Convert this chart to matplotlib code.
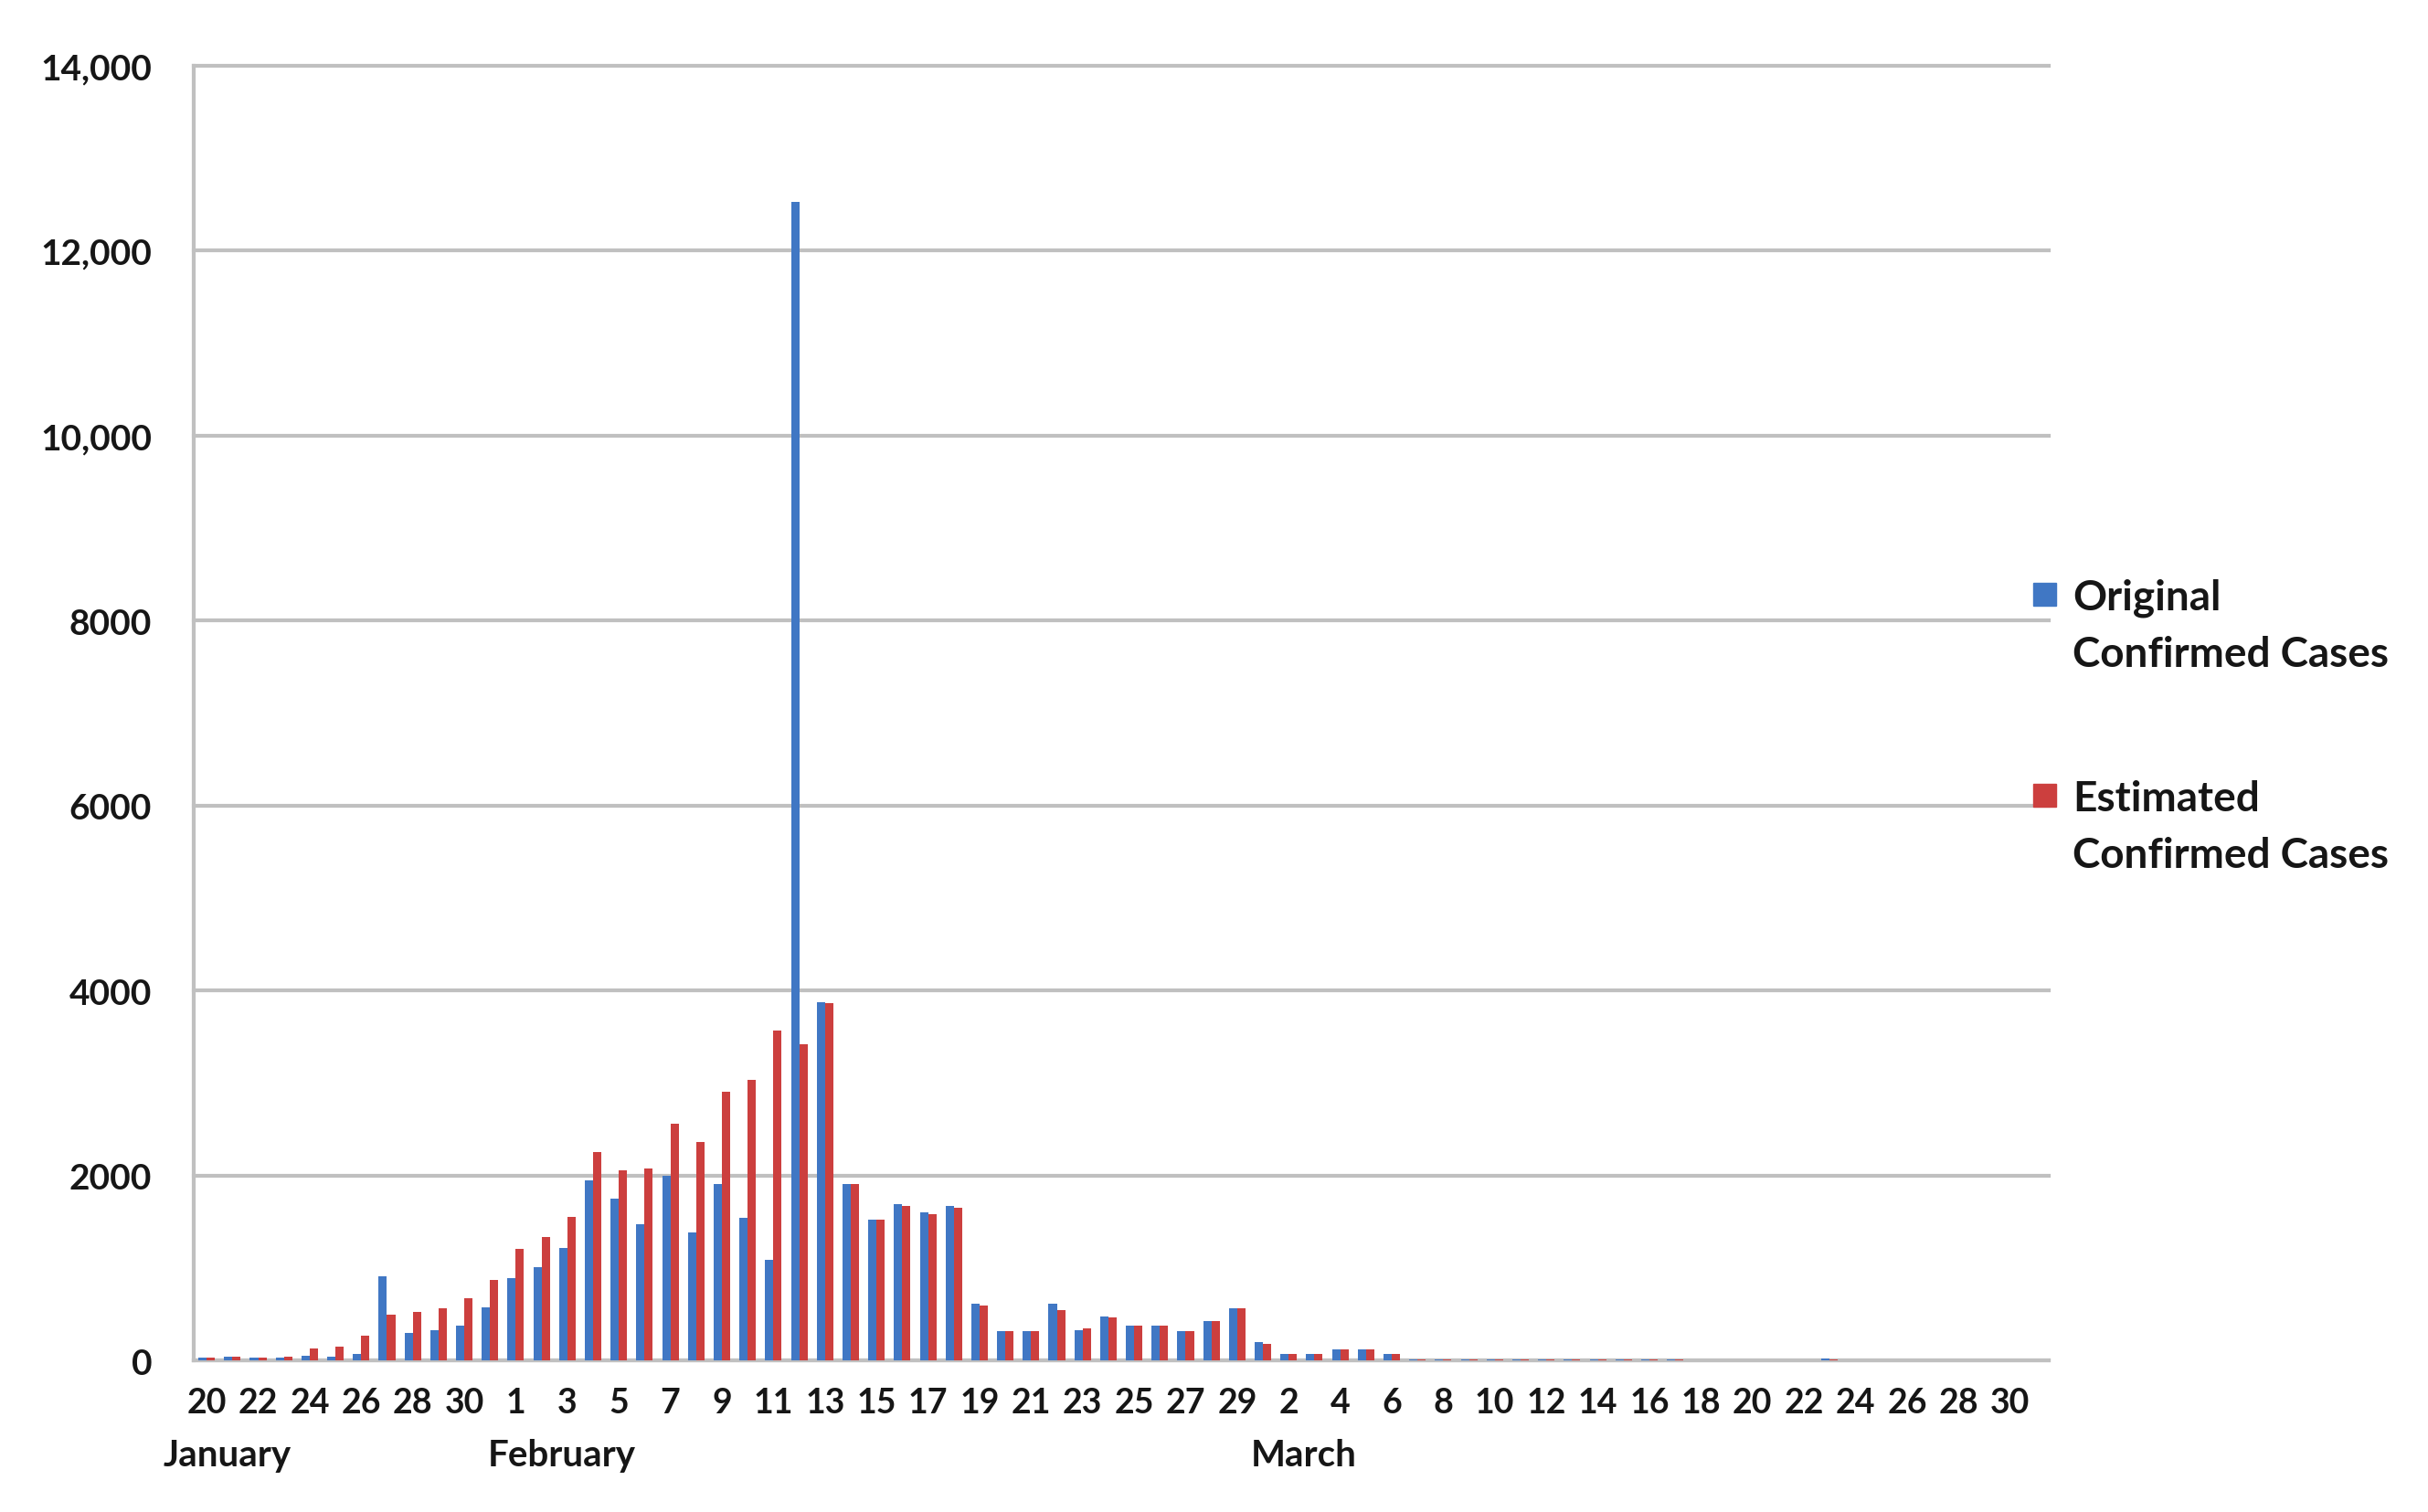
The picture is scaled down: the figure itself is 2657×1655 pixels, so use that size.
import matplotlib.pyplot as plt
from matplotlib.patches import Rectangle

plt.rcParams['font.family'] = ['Lato', 'DejaVu Sans']

# one category per day, 20 January to 31 March 2020
days = list(range(20, 32)) + list(range(1, 30)) + list(range(1, 32))

original = [30, 45, 35, 35, 50, 40, 70, 905, 296, 329, 379, 576,
            889, 1005, 1219, 1945, 1745, 1473, 2000, 1382, 1909, 1545, 1091, 12530,
            3873, 1909, 1527, 1691, 1600, 1673, 609, 313, 313, 609, 330, 478,
            379, 379, 313, 428, 560, 198, 66, 66, 120, 115, 66, 15,
            15, 15, 15, 15, 15, 15, 15, 15, 15, 15, 0, 0,
            0, 0, 0, 20, 0, 0, 0, 0, 0, 0, 0, 0]

estimated = [30, 40, 35, 40, 130, 150, 263, 494, 527, 560, 675, 873,
             1202, 1334, 1548, 2255, 2055, 2073, 2564, 2364, 2909, 3036, 3564, 3418,
             3860, 1909, 1527, 1673, 1582, 1655, 593, 313, 313, 543, 346, 461,
             379, 379, 313, 428, 560, 181, 66, 66, 115, 115, 66, 15,
             15, 15, 15, 15, 15, 15, 15, 15, 15, 15, 0, 0,
             0, 0, 0, 10, 0, 0, 0, 0, 0, 0, 0, 0]

months = ['January', 'February', 'March']
month_pos = [0.8, 13.8, 42.6]

series_names = ['Original\nConfirmed Cases', 'Estimated\nConfirmed Cases']
colors = ['#4077C4', '#CC3F3E']
grid_color = '#c0c0c0'
text_color = '#161616'

fig = plt.figure(figsize=(26.57, 16.56), dpi=100)
ax = fig.add_axes([0.0798, 0.1002, 0.764, 0.8557])

x = list(range(len(days)))
w = 0.32
ax.bar([i - w / 2 for i in x], original, width=w, color=colors[0], zorder=3)
ax.bar([i + w / 2 for i in x], estimated, width=w, color=colors[1], zorder=3)

ax.set_xlim(-0.5, len(days) - 0.5)
ax.set_ylim(0, 14000)

yt = list(range(0, 14001, 2000))
ax.set_yticks(yt)
ax.set_yticklabels([f'{v:,}' if v >= 10000 else str(v) for v in yt],
                   fontsize=28, fontweight='bold', color=text_color)
ax.set_xticks(x[::2])
ax.set_xticklabels([str(d) for d in days[::2]], fontsize=27,
                   fontweight='bold', color=text_color)
ax.tick_params(length=0)
ax.tick_params(axis='y', pad=33)
ax.tick_params(axis='x', pad=21)

ax.grid(axis='y', color=grid_color, linewidth=3, zorder=0)
for line in ax.get_ygridlines():
    line.set_clip_on(False)
for s in ['top', 'right']:
    ax.spines[s].set_visible(False)
for s in ['left', 'bottom']:
    ax.spines[s].set_color(grid_color)
    ax.spines[s].set_linewidth(3)

# month names under the day labels
for name, pos in zip(months, month_pos):
    ax.text(pos, -0.073, name, transform=ax.get_xaxis_transform(),
            ha='center', va='center', fontsize=29, fontweight='bold', color=text_color)

# legend, drawn by hand to keep the square next to the first line
leg_y = [652, 872]
for name, col, yp in zip(series_names, colors, leg_y):
    fig.patches.append(Rectangle(((2237 - 12) / 2657, 1 - (yp + 12) / 1656),
                                 25 / 2657, 25 / 1656, color=col,
                                 transform=fig.transFigure, figure=fig))
    fig.text(2268 / 2657, 1 - (yp + 34) / 1656, name, ha='left', va='center',
             fontsize=33, fontweight='bold', color=text_color, linespacing=1.6)

fig.savefig('out.png', dpi=100)
